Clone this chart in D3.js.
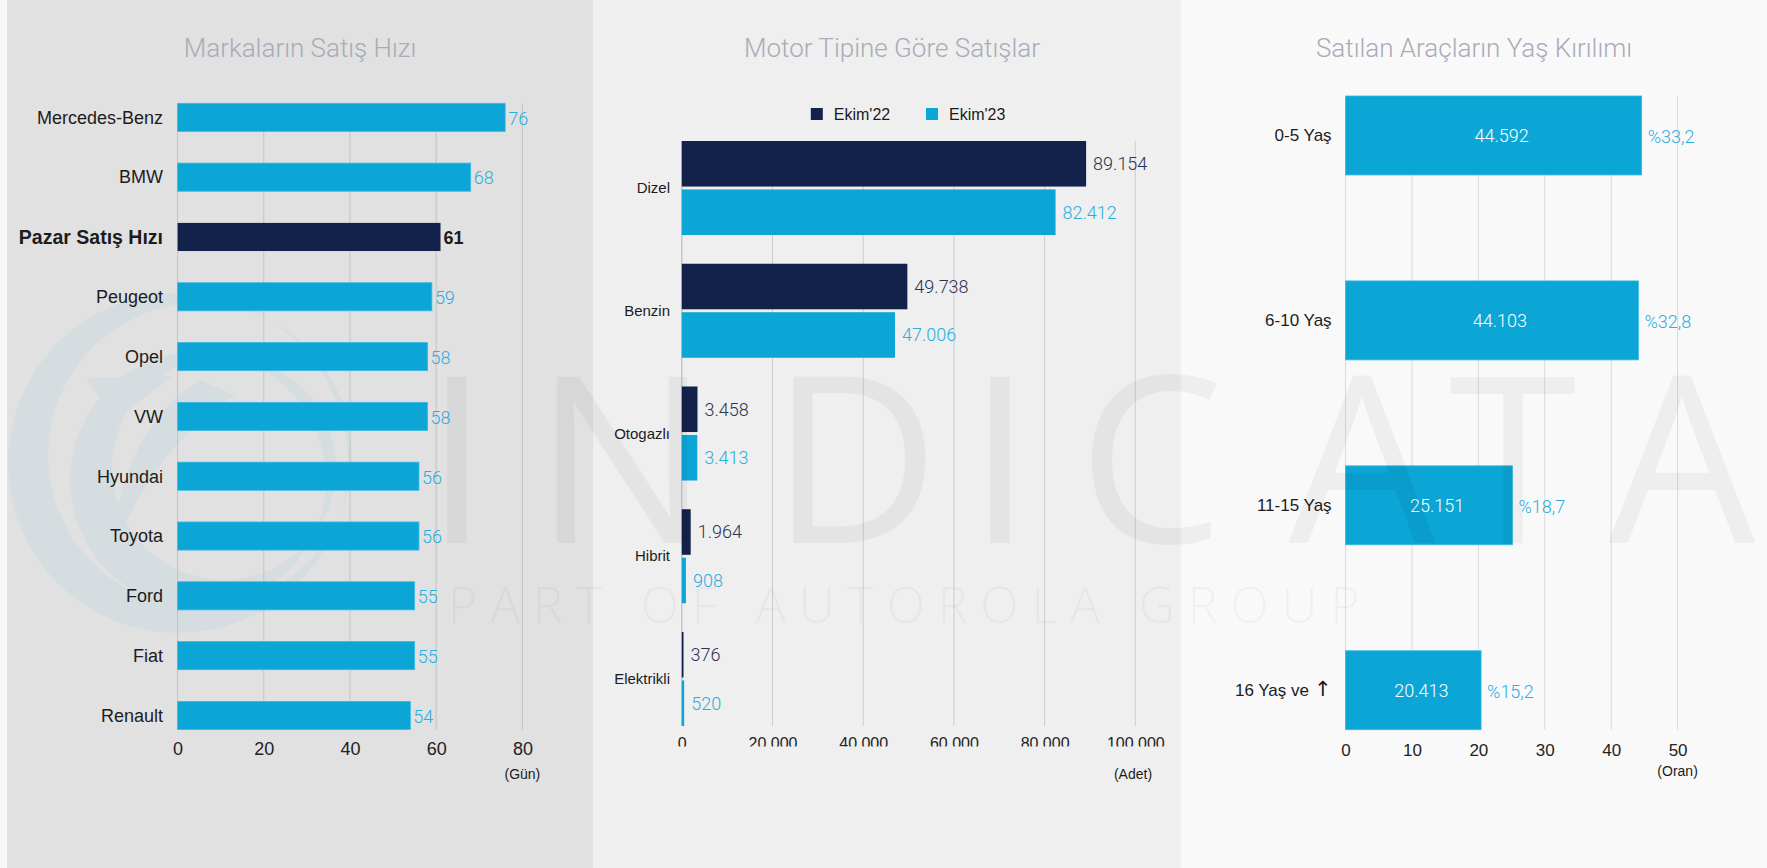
<!DOCTYPE html>
<html>
<head>
<meta charset="utf-8">
<script src="https://cdn.jsdelivr.net/npm/d3@7"></script>
<style>
	html, body { margin: 0; padding: 0; background: #f9f9f9; }
	svg { display: block; }
	.lbl { font-family: "Liberation Sans", Arial, sans-serif; fill: #1c1c1c; }
	.lt { font-family: Roboto, "Liberation Sans", sans-serif; font-weight: 300; }
	.axis text { font-family: "Liberation Sans", Arial, sans-serif; fill: #222; }
</style>
</head>
<body>
<script>
// --- data ---
const brands = ['Mercedes-Benz', 'BMW', 'Pazar Satış Hızı', 'Peugeot', 'Opel', 'VW', 'Hyundai', 'Toyota', 'Ford', 'Fiat', 'Renault'];
const brandDays = [76, 68, 61, 59, 58, 58, 56, 56, 55, 55, 54];
const marketLabel = 'Pazar Satış Hızı';
const daysTicks = [0, 20, 40, 60, 80];

const fuelTypes = ['Dizel', 'Benzin', 'Otogazlı', 'Hibrit', 'Elektrikli'];
const seriesNames = ["Ekim'22", "Ekim'23"];
const sales22 = [89154, 49738, 3458, 1964, 376];
const sales23 = [82412, 47006, 3413, 908, 520];
const salesTicks = [0, 20000, 40000, 60000, 80000, 100000];

const ageGroups = ['0-5 Yaş', '6-10 Yaş', '11-15 Yaş', '16 Yaş ve'];
const ageCounts = [44592, 44103, 25151, 20413];
const agePct = [33.2, 32.8, 18.7, 15.2];
const ageTicks = [0, 10, 20, 30, 40, 50];

const titles = ['Markaların Satış Hızı', 'Motor Tipine Göre Satışlar', 'Satılan Araçların Yaş Kırılımı'];
const units = ['(Gün)', '(Adet)', '(Oran)'];

const W = 1767, H = 868;
const col = { blue: '#0ba5d6', blueEdge: '#3bb8e4', navy: '#13224b', blueTxt: '#2aaee0', navyTxt: '#2a3352' };
const tr = d3.formatLocale({ decimal: ',', thousands: '.', grouping: [3], currency: ['', ''] });
const fmtInt = tr.format(',');
const fmtPct = tr.format('.1f');

const svg = d3.select('body').append('svg').attr('width', W).attr('height', H);

// panel backgrounds
const panels = [
	{ x: 0, w: 7, c: '#f7f7f7' },
	{ x: 7, w: 586, c: '#e1e1e1' },
	{ x: 593, w: 588, c: '#efefef' },
	{ x: 1181, w: 586, c: '#f9f9f9' }
];
svg.selectAll('rect.bg').data(panels).enter().append('rect')
	.attr('class', 'bg')
	.attr('x', d => d.x).attr('y', 0).attr('width', d => d.w).attr('height', H)
	.attr('fill', d => d.c);

// faint logo swirl behind panel 1
const logo = svg.append('g').attr('fill', '#78bee1').attr('opacity', 0.11);
logo.append('path').attr('fill-rule', 'evenodd')
	.attr('d', 'M8,463a170,170 0 1,0 340,0a170,170 0 1,0 -340,0Z M48,455a152,152 0 1,0 304,0a152,152 0 1,0 -304,0Z');
logo.append('path').attr('fill-rule', 'evenodd')
	.attr('d', 'M70,480a128,128 0 1,0 256,0a128,128 0 1,0 -256,0Z M112,468a112,112 0 1,0 224,0a112,112 0 1,0 -224,0Z');
logo.append('path').attr('d', 'M86,378 L172,376 L116,420 Z');
logo.append('path').attr('d', 'M200,380 Q120,430 110,560 Q150,450 235,395 Z');

const titleG = svg.append('g');
titleG.selectAll('text').data(titles).enter().append('text')
	.attr('class', 'lt')
	.attr('x', (d, i) => [300, 892, 1474][i]).attr('y', 57)
	.attr('text-anchor', 'middle').attr('font-size', 26).attr('fill', '#a7acb8')
	.text(d => d);

// ---------- panel 1 : brand sales speed ----------
function speedChart(g) {
	const x = d3.scaleLinear().domain([0, 80]).range([177.6, 522.4]);
	const y = d3.scaleBand().domain(brands).range([103.3, 729.5]).paddingInner(0.53).paddingOuter(0);
	const bw = y.bandwidth();
	const rows = brands.map((b, i) => ({ b: b, v: brandDays[i], mkt: b === marketLabel }));

	g.append('g').selectAll('line').data(daysTicks).enter().append('line')
		.attr('x1', d => x(d)).attr('x2', d => x(d))
		.attr('y1', y.range()[0]).attr('y2', y.range()[1])
		.attr('stroke', '#c3c3c3').attr('stroke-width', 1);

	g.append('g').selectAll('rect').data(rows).enter().append('rect')
		.attr('x', x(0)).attr('y', d => y(d.b))
		.attr('width', d => x(d.v) - x(0)).attr('height', bw)
		.attr('fill', d => d.mkt ? col.navy : col.blue)
		.attr('stroke', d => d.mkt ? 'none' : col.blueEdge).attr('stroke-width', 0.8);

	g.append('g').selectAll('text').data(rows).enter().append('text')
		.attr('class', d => d.mkt ? 'lbl' : 'lt')
		.attr('x', d => x(d.v) + 3).attr('y', d => y(d.b) + bw / 2 + 1).attr('dy', '0.35em')
		.attr('font-size', 18)
		.attr('font-weight', d => d.mkt ? 700 : 300)
		.attr('fill', d => d.mkt ? col.navy : col.blueTxt)
		.text(d => d.v);

	g.append('g').selectAll('text').data(rows).enter().append('text')
		.attr('class', 'lbl')
		.attr('x', 163).attr('y', d => y(d.b) + bw / 2).attr('dy', '0.35em')
		.attr('text-anchor', 'end')
		.attr('font-size', d => d.mkt ? 19.5 : 18)
		.attr('font-weight', d => d.mkt ? 700 : 400)
		.attr('fill', d => d.mkt ? '#111' : '#1c1c1c')
		.text(d => d.b);

	const ax = g.append('g').attr('class', 'axis')
		.attr('transform', 'translate(0,' + y.range()[1] + ')')
		.call(d3.axisBottom(x).tickValues(daysTicks).tickSize(0).tickPadding(13));
	ax.select('.domain').remove();
	ax.selectAll('text').attr('font-size', 18);

	g.append('text').attr('class', 'lbl')
		.attr('x', x(80)).attr('y', 779).attr('text-anchor', 'middle')
		.attr('font-size', 14).text(units[0]);
}

// ---------- panel 2 : sales by engine type ----------
function fuelChart(g) {
	const x = d3.scaleLinear().domain([0, 100000]).range([681.8, 1135.3]);
	const y = d3.scaleBand().domain(fuelTypes).range([141, 726]).paddingInner(0.234).paddingOuter(0);
	const ys = d3.scaleBand().domain(seriesNames).range([0, y.bandwidth()]).paddingInner(0.06);
	const colors = [col.navy, col.blue];
	const txtColors = [col.navyTxt, col.blueTxt];

	g.append('g').selectAll('line').data(salesTicks).enter().append('line')
		.attr('x1', d => x(d)).attr('x2', d => x(d))
		.attr('y1', y.range()[0]).attr('y2', y.range()[1])
		.attr('stroke', d => d === 0 ? '#b5b5b5' : '#cdcdcd').attr('stroke-width', 1);

	const groups = g.append('g').selectAll('g').data(fuelTypes).enter().append('g')
		.attr('transform', d => 'translate(0,' + y(d) + ')');

	groups.each(function(f, fi) {
		const gr = d3.select(this);
		const vals = [sales22[fi], sales23[fi]];
		seriesNames.forEach((s, si) => {
			gr.append('rect')
				.attr('x', x(0)).attr('y', ys(s))
				.attr('width', Math.max(1.5, x(vals[si]) - x(0))).attr('height', ys.bandwidth())
				.attr('fill', colors[si]);
			gr.append('text').attr('class', 'lt')
				.attr('x', x(vals[si]) + 7).attr('y', ys(s) + ys.bandwidth() / 2).attr('dy', '0.35em')
				.attr('font-size', 18).attr('fill', txtColors[si])
				.text(fmtInt(vals[si]));
		});
		gr.append('text').attr('class', 'lbl')
			.attr('x', 670).attr('y', y.bandwidth() / 2).attr('dy', '0.35em')
			.attr('text-anchor', 'end').attr('font-size', 15)
			.text(f);
	});

	// legend
	const lg = g.append('g').selectAll('g').data(seriesNames).enter().append('g')
		.attr('transform', (d, i) => 'translate(' + (810.8 + i * 115.2) + ',108)');
	lg.append('rect').attr('width', 12).attr('height', 12).attr('fill', (d, i) => colors[i]);
	lg.append('text').attr('class', 'lbl').attr('x', 23).attr('y', 6).attr('dy', '0.35em')
		.attr('font-size', 16).attr('fill', '#222').text(d => d);

	// tick labels are cut off at the bottom in the original
	const axY = y.range()[1];
	svg.append('clipPath').attr('id', 'clipTicks')
		.append('rect').attr('x', 593).attr('y', -20).attr('width', 588).attr('height', 746.5 - axY + 20);
	const ax = g.append('g').attr('class', 'axis')
		.attr('transform', 'translate(0,' + axY + ')')
		.attr('clip-path', 'url(#clipTicks)')
		.call(d3.axisBottom(x).tickValues(salesTicks).tickFormat(fmtInt).tickSize(0).tickPadding(12));
	ax.select('.domain').remove();
	ax.selectAll('text').attr('font-size', 16);

	g.append('text').attr('class', 'lbl')
		.attr('x', 1133).attr('y', 779).attr('text-anchor', 'middle')
		.attr('font-size', 14).text(units[1]);
}

// ---------- panel 3 : age breakdown ----------
function ageChart(g) {
	const x = d3.scaleLinear().domain([0, 50]).range([1345.5, 1677.6]);
	const y = d3.scaleBand().domain(ageGroups).range([96, 729.7]).paddingInner(0.573).paddingOuter(0);
	const bw = y.bandwidth();
	const rows = ageGroups.map((a, i) => ({ a: a, n: ageCounts[i], p: agePct[i], last: i === ageGroups.length - 1 }));

	g.append('g').selectAll('line').data(ageTicks).enter().append('line')
		.attr('x1', d => x(d)).attr('x2', d => x(d))
		.attr('y1', y.range()[0]).attr('y2', y.range()[1])
		.attr('stroke', '#dadada').attr('stroke-width', 1);

	g.append('g').selectAll('rect').data(rows).enter().append('rect')
		.attr('x', x(0)).attr('y', d => y(d.a))
		.attr('width', d => x(d.n / 1000) - x(0)).attr('height', bw)
		.attr('fill', col.blue).attr('stroke', col.blueEdge).attr('stroke-width', 0.8);

	g.append('g').selectAll('text').data(rows).enter().append('text')
		.attr('class', 'lt')
		.attr('x', d => (x(0) + x(d.n / 1000)) / 2 + 8).attr('y', d => y(d.a) + bw / 2).attr('dy', '0.35em')
		.attr('text-anchor', 'middle').attr('font-size', 18).attr('fill', '#fff')
		.text(d => fmtInt(d.n));

	g.append('g').selectAll('text').data(rows).enter().append('text')
		.attr('class', 'lt')
		.attr('x', d => x(d.n / 1000) + 6).attr('y', d => y(d.a) + bw / 2 + 1).attr('dy', '0.35em')
		.attr('font-size', 18).attr('fill', col.blueTxt)
		.text(d => '%' + fmtPct(d.p));

	const cat = g.append('g').selectAll('text').data(rows).enter().append('text')
		.attr('class', 'lbl')
		.attr('x', 1331.6).attr('y', d => y(d.a) + bw / 2).attr('dy', '0.35em')
		.attr('text-anchor', 'end').attr('font-size', 17);
	cat.append('tspan').text(d => d.a);
	cat.filter(d => d.last).append('tspan')
		.attr('font-family', '"DejaVu Sans", sans-serif').attr('font-size', 21).attr('dx', 5)
		.text('↑');

	const ax = g.append('g').attr('class', 'axis')
		.attr('transform', 'translate(0,' + y.range()[1] + ')')
		.call(d3.axisBottom(x).tickValues(ageTicks).tickSize(0).tickPadding(14));
	ax.select('.domain').remove();
	ax.selectAll('text').attr('font-size', 17);

	g.append('text').attr('class', 'lbl')
		.attr('x', x(50)).attr('y', 776).attr('text-anchor', 'middle')
		.attr('font-size', 14).text(units[2]);
}

speedChart(svg.append('g'));
fuelChart(svg.append('g'));
ageChart(svg.append('g'));

// watermark over everything
const wm = svg.append('g').attr('pointer-events', 'none');
const wmLetters = 'INDICATA'.split('');
const wmX = [457, 622, 855, 1000, 1151, 1362, 1513, 1682];
wm.selectAll('text').data(wmLetters).enter().append('text')
	.attr('x', (d, i) => wmX[i]).attr('y', 543)
	.attr('text-anchor', 'middle')
	.attr('font-family', '"Open Sans", "Liberation Sans", sans-serif')
	.attr('font-weight', 400)
	.attr('font-size', 233)
	.attr('fill', '#000').attr('fill-opacity', 0.045)
	.text(d => d);
wm.append('text')
	.attr('x', 448).attr('y', 623)
	.attr('font-family', '"Open Sans", "Liberation Sans", sans-serif')
	.attr('font-weight', 300)
	.attr('font-size', 50)
	.attr('letter-spacing', 12.9)
	.attr('fill', '#000').attr('fill-opacity', 0.035)
	.text('PART OF AUTOROLA GROUP');
</script>
</body>
</html>
